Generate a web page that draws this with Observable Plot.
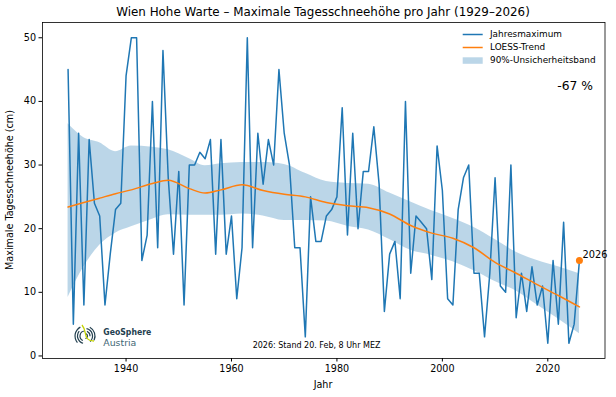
<!DOCTYPE html>
<html><head><meta charset="utf-8">
<script src="https://cdn.jsdelivr.net/npm/d3@7"></script>
<script src="https://cdn.jsdelivr.net/npm/@observablehq/plot@0.6"></script>
<style>
body{margin:0;background:#fff;}
#chart{width:616px;height:397px;}
</style></head><body><div id="chart"></div>
<script>
// Yearly maximum snow depth (cm), 1929–2026
const years = d3.range(1929, 2027);
const maxima = [
  45, 5, 35, 8, 34, 24, 22, 8, 16, 23, 24,          // 1929–1939
  44, 50, 50, 15, 19, 40, 17, 48, 28, 16,           // 1940–1949
  29, 8, 30, 30, 32, 31, 34, 16, 34, 16,            // 1950–1959
  22, 9, 17, 50, 17, 35, 27, 34, 30, 45,            // 1960–1969
  35, 30, 17, 17, 3, 25, 18, 18, 22, 23,            // 1970–1979
  25, 39, 19, 35, 20, 29, 29, 36, 27, 7,            // 1980–1989
  16, 18, 9, 40, 13, 22, 21, 20, 12, 33,            // 1990–1999
  26, 9, 8, 23, 28, 30, 13, 13, 3, 13,              // 2000–2009
  28, 11, 10, 30, 6, 13, 7, 14, 8, 11,              // 2010–2019
  2, 15, 5, 21, 2, 5, 15                            // 2020–2026
];

// LOESS trend and 90% band, read at sample years
const bandYears = [1929,1932,1935,1938,1941,1945,1948,1952,1955,1958,1962,1966,1970,1974,1978,1982,1986,1990,1994,1998,2002,2006,2010,2014,2018,2022,2026];
const trend =     [23.4,24.1,24.8,25.5,26.1,27.1,27.6,26.3,25.6,26.1,26.9,26.0,25.4,25.0,24.1,23.6,23.3,22.3,20.5,19.3,18.5,17.0,14.7,13.0,11.2,9.5,7.7];
const bandHigh =  [36.5,34.3,33.5,32.1,33.0,32.8,32.4,31.0,29.9,30.2,30.4,30.4,30.1,28.7,27.4,27.1,27.0,25.6,24.2,22.8,21.6,20.2,18.3,16.3,15.0,14.0,12.9];
const bandLow =   [9.2,14.0,17.4,19.3,20.3,21.5,22.2,22.1,22.1,22.1,22.3,22.0,21.3,21.3,21.2,20.4,19.8,18.3,16.6,15.8,14.8,13.4,11.7,10.2,8.0,5.8,3.5];

const xTicks = [1940, 1960, 1980, 2000, 2020];
const yTicks = [0, 10, 20, 30, 40, 50];

const series = years.map((y, i) => ({year: y, value: maxima[i]}));
const band = bandYears.map((y, i) => ({year: y, trend: trend[i], lo: bandLow[i], hi: bandHigh[i]}));
const last = [series[series.length - 1]];

const BLUE = "#1f77b4", ORANGE = "#ff7f0e";
const FONT = "DejaVu Sans";

const svg = Plot.plot({
  width: 616, height: 397,
  marginLeft: 42, marginRight: 11.5, marginTop: 22, marginBottom: 39,
  style: {fontFamily: FONT, fontSize: "9.4px", color: "#000", background: "#fff", overflow: "visible"},
  x: {domain: [1924.15, 2030.85]},
  y: {domain: [-0.4, 52.4]},
  marks: [
    Plot.areaY(band, {x: "year", y1: "lo", y2: "hi", fill: BLUE, fillOpacity: 0.3, curve: "monotone-x"}),
    Plot.lineY(series, {x: "year", y: "value", stroke: BLUE, strokeWidth: 1.5}),
    Plot.lineY(band, {x: "year", y: "trend", stroke: ORANGE, strokeWidth: 1.5, curve: "monotone-x"}),
    Plot.dot(last, {x: "year", y: "value", r: 3.5, fill: ORANGE}),
    Plot.text(last, {x: "year", y: "value", text: d => String(d.year), dx: 3, dy: -6, textAnchor: "start", fontSize: 9.8}),
    Plot.axisX({ticks: xTicks, tickFormat: d => String(d), tickSize: 3.5, tickPadding: 3, label: null, fontSize: 9.6}),
    Plot.axisY({ticks: yTicks, tickFormat: d => String(d), tickSize: 3.5, tickPadding: 3, label: null, fontSize: 9.6}),
    Plot.frame({stroke: "#000", strokeWidth: 0.8})
  ]
});

document.getElementById("chart").appendChild(svg);
const s = d3.select(svg);
const ff = FONT;

function txt(parent, x, y, t, size, anchor, extra) {
  const e = parent.append("text").attr("x", x).attr("y", y).attr("text-anchor", anchor)
    .attr("dominant-baseline", "middle").attr("font-family", ff).attr("font-size", size).attr("fill", "#000").text(t);
  if (extra) extra(e);
  return e;
}

// Title
txt(s, 323, 12, "Wien Hohe Warte – Maximale Tagesschneehöhe pro Jahr (1929–2026)", 11.9, "middle");
// Axis labels
txt(s, 323, 384.5, "Jahr", 9.6, "middle");
s.append("text").attr("transform", "translate(10,190) rotate(-90)").attr("text-anchor", "middle").attr("dominant-baseline", "middle")
  .attr("font-family", ff).attr("font-size", 9.6).attr("fill", "#000").text("Maximale Tagesschneehöhe (cm)");

// Legend
const lg = s.append("g");
lg.append("line").attr("x1", 462.7).attr("x2", 482.7).attr("y1", 34.5).attr("y2", 34.5).attr("stroke", BLUE).attr("stroke-width", 1.5);
lg.append("line").attr("x1", 462.7).attr("x2", 482.7).attr("y1", 47.5).attr("y2", 47.5).attr("stroke", ORANGE).attr("stroke-width", 1.5);
lg.append("rect").attr("x", 462.7).attr("y", 57.3).attr("width", 20).attr("height", 6.5).attr("fill", BLUE).attr("fill-opacity", 0.3);
[["Jahresmaximum", 34.5], ["LOESS-Trend", 47.5], ["90%-Unsicherheitsband", 60.5]].forEach(([t, y]) =>
  txt(lg, 490, y, t, 8.9, "start"));

// Change annotation
txt(s, 593, 86, "-67 %", 12.3, "end");

// Caption
txt(s, 252.7, 345, "2026: Stand 20. Feb, 8 Uhr MEZ", 8, "start");

// Logo
const logo = s.append("g");
const cx = 85, cy = 336;
const arc = d3.arc();
[[2.5, 0.3, 3.0], [5, 3.6, 6.2], [5, 0.4, 1.6], [7.5, 0.2, 2.4], [7.5, 3.4, 5.4], [10, 4.0, 5.8], [10, 0.5, 2.0]].forEach(([r, a0, a1]) => {
  logo.append("path").attr("transform", `translate(${cx},${cy})`)
    .attr("d", arc({innerRadius: r - 0.6, outerRadius: r + 0.6, startAngle: a0, endAngle: a1}))
    .attr("fill", "#23404f");
});
logo.append("path").attr("d", `M${cx - 3},${cy - 11} C${cx + 3},${cy - 4} ${cx - 3},${cy + 4} ${cx + 9},${cy + 5}`)
  .attr("fill", "none").attr("stroke", "#c5d300").attr("stroke-width", 1.3);
txt(logo, 103.3, 332.5, "GeoSphere", 8.6, "start", e => e.attr("font-weight", "bold").attr("fill", "#23404f")
  .attr("textLength", 48).attr("lengthAdjust", "spacingAndGlyphs"));
txt(logo, 103.3, 343.5, "Austria", 9, "start", e => e.attr("fill", "#3f6775")
  .attr("textLength", 33).attr("lengthAdjust", "spacingAndGlyphs"));
</script></body></html>
